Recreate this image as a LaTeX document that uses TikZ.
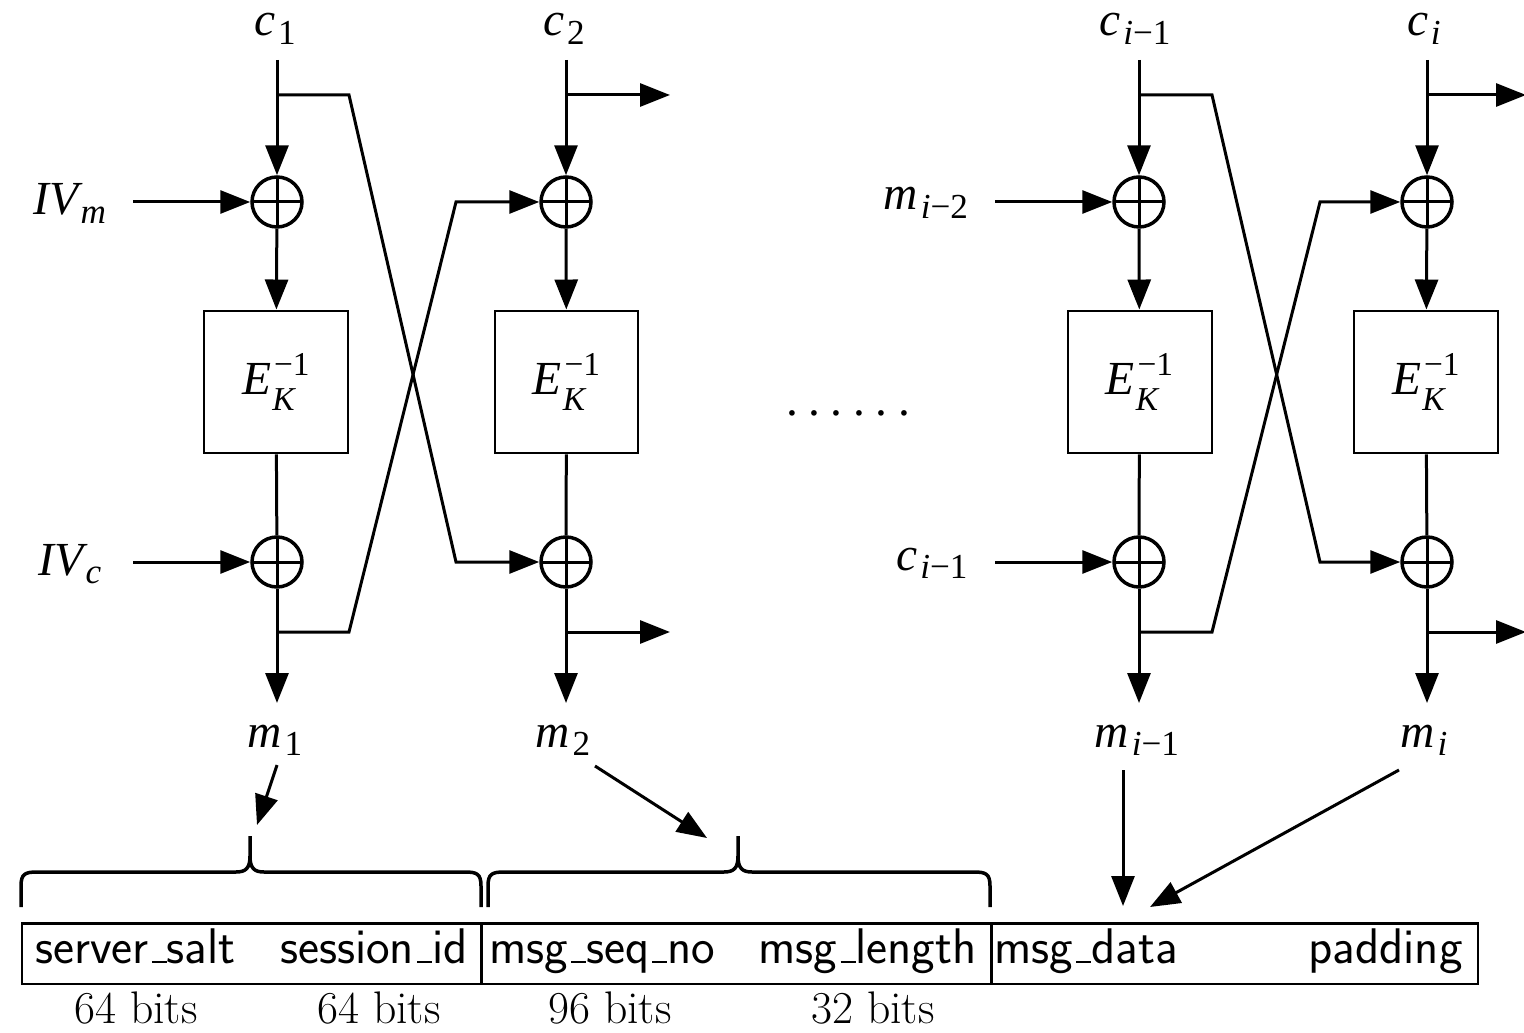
\documentclass[tikz,border=0pt]{standalone}
\usepackage{fontspec}
\newfontfamily\tms{Liberation Serif}
\usetikzlibrary{arrows.meta}
\newcommand\subf{\fontsize{20}{22}\selectfont}
\newcommand\sbs[1]{\kern1.5pt\raisebox{-5pt}{\subf #1}}
\newcommand\us{\kern.06em\rule{.3em}{1.3pt}}
\newcommand\ekinv{\textit{E}\rlap{\kern0.5pt\raisebox{-9pt}{\fontsize{19}{20}\selectfont\textit{K}}}\kern1.5pt\raisebox{10.5pt}{\fontsize{19}{20}\selectfont −1}}
\begin{document}
\begin{tikzpicture}[x=0.02cm,y=-0.02cm,
  ln/.style={line width=0.06cm},
  arr/.style={line width=0.06cm,-{Triangle[length=0.6cm,width=0.46cm]}},
  xorn/.style={circle,draw,line width=0.07cm,minimum size=1cm,inner sep=0pt,
    path picture={\draw[line width=0.06cm] (path picture bounding box.west)--(path picture bounding box.east)
      (path picture bounding box.north)--(path picture bounding box.south);}},
  ekbox/.style={draw,line width=0.04cm,minimum width=2.88cm,minimum height=2.86cm,inner sep=0pt,
    font=\tms\fontsize{27}{30}\selectfont},
  lab/.style={anchor=base,inner sep=0pt,font=\tms\fontsize{27}{30}\selectfont},
  field/.style={draw,line width=0.05cm,minimum height=1.22cm,anchor=north west,inner sep=0pt},
  sft/.style={inner sep=0pt,font=\sffamily\fontsize{28.5}{30}\selectfont},
  bits/.style={anchor=base,inner sep=0pt,font=\rmfamily\fontsize{26}{28}\selectfont},
  bracep/.style={line width=0.07cm}]
\useasboundingbox (0,0) rectangle (1524,1033);

% ---------- column 1
\node[lab] (c1) at (275,36) {\textit{c}\sbs{1}};
\coordinate (c1s) at (277,60);
\coordinate (b1t) at (277,95);
\node[xorn] (x1t) at (277,202) {};
\node[ekbox] (e1) at (276,382) {\ekinv};
\node[xorn] (x1b) at (277,562) {};
\coordinate (b1b) at (277,632);
\coordinate (m1e) at (277,703);
\node[lab] (m1) at (275,747) {\textit{m}\sbs{1}};
% ---------- column 2
\node[lab] (c2) at (564,36) {\textit{c}\sbs{2}};
\coordinate (c2s) at (566,60);
\coordinate (b2t) at (566,95);
\node[xorn] (x2t) at (566,202) {};
\node[ekbox] (e2) at (566.5,382) {\ekinv};
\node[xorn] (x2b) at (566,562) {};
\coordinate (b2b) at (566,632);
\coordinate (m2e) at (566,703);
\node[lab] (m2) at (563,747) {\textit{m}\sbs{2}};
% ---------- column 3
\node[lab] (c3) at (1135,36) {\textit{c}\sbs{\textit{i}−1}};
\coordinate (c3s) at (1139,60);
\coordinate (b3t) at (1139,95);
\node[xorn] (x3t) at (1139,202) {};
\node[ekbox] (e3) at (1139.5,382) {\ekinv};
\node[xorn] (x3b) at (1139,562) {};
\coordinate (b3b) at (1139,632);
\coordinate (m3e) at (1139,703);
\node[lab] (m3) at (1137,747) {\textit{m}\sbs{\textit{i}−1}};
% ---------- column 4
\node[lab] (c4) at (1424,36) {\textit{c}\sbs{\textit{i}}};
\coordinate (c4s) at (1427,60);
\coordinate (b4t) at (1427,95);
\node[xorn] (x4t) at (1427,202) {};
\node[ekbox] (e4) at (1426,382) {\ekinv};
\node[xorn] (x4b) at (1427,562) {};
\coordinate (b4b) at (1427,632);
\coordinate (m4e) at (1427,703);
\node[lab] (m4) at (1424,747) {\textit{m}\sbs{\textit{i}}};

% ---------- inputs
\node[lab] (ivm) at (70,215) {\textit{IV}\kern-3pt\sbs{\textit{m}}};
\coordinate (ivms) at (133,202);
\node[lab] (ivc) at (70,575) {\textit{IV}\kern-3pt\sbs{\textit{c}}};
\coordinate (ivcs) at (133,562);
\node[lab] (mim2) at (926,210) {\textit{m}\sbs{\textit{i}−2}};
\coordinate (mim2s) at (995,202);
\node[lab] (cim1) at (932,570) {\textit{c}\sbs{\textit{i}−1}};
\coordinate (cim1s) at (995,562);
\node[lab] (dots) at (848,416) {.\kern6pt.\kern6pt.\kern6pt.\kern6pt.\kern6pt.};

% ---------- crossing corners and outputs
\coordinate (k1a) at (349,95);  \coordinate (k1b) at (456,562);
\coordinate (k1c) at (349,632); \coordinate (k1d) at (456,202);
\coordinate (k3a) at (1212,95);  \coordinate (k3b) at (1320,562);
\coordinate (k3c) at (1212,632); \coordinate (k3d) at (1320,202);
\coordinate (o2t) at (670,95);  \coordinate (o2b) at (670,632);
\coordinate (o4t) at (1526,95); \coordinate (o4b) at (1526,632);

% ---------- vertical flows
\foreach \i in {1,2,3,4}{
  \draw[arr] (c\i s) -- (x\i t);
  \draw[arr] (x\i t) -- (e\i);
  \draw[ln] (e\i) -- (x\i b);
  \draw[arr] (x\i b) -- (m\i e);
}
% ---------- side inputs
\draw[arr] (ivms) -- (x1t);
\draw[arr] (ivcs) -- (x1b);
\draw[arr] (mim2s) -- (x3t);
\draw[arr] (cim1s) -- (x3b);
% ---------- crossings
\draw[arr] (b1t) -- (k1a) -- (k1b) -- (x2b);
\draw[arr] (b1b) -- (k1c) -- (k1d) -- (x2t);
\draw[arr] (b3t) -- (k3a) -- (k3b) -- (x4b);
\draw[arr] (b3b) -- (k3c) -- (k3d) -- (x4t);
\draw[arr] (b2t) -- (o2t);
\draw[arr] (b2b) -- (o2b);
\draw[arr] (b4t) -- (o4t);
\draw[arr] (b4b) -- (o4b);

% ---------- message layout
\node[field,minimum width=9.18cm] (f1) at (21,922) {};
\node[field,minimum width=10.2cm] (f2) at (480,922) {};
\node[field,minimum width=9.74cm] (f3) at (990,922) {};
\node[sft,anchor=base west] (t1) at (35,963) {server\us salt};
\node[sft,anchor=base east] (t2) at (468,963) {session\us id};
\node[sft,anchor=base west] (t3) at (489,963) {msg\us seq\us no};
\node[sft,anchor=base east] (t4) at (977,963) {msg\us length};
\node[sft,anchor=base west] (t5) at (994,963) {msg\us data};
\node[sft,anchor=base east] (t6) at (1463,963) {padding};
\node[bits] (s1) at (136,1023) {64 bits};
\node[bits] (s2) at (379,1023) {64 bits};
\node[bits] (s3) at (610,1023) {96 bits};
\node[bits] (s4) at (873,1023) {32 bits};

% ---------- braces
\coordinate (br1) at (250,836);
\coordinate (br2) at (738,836);
\draw[bracep] (21,907) -- (21,886) .. controls (21,874) and (25,872) .. (37,872) -- (236,872)
  .. controls (246,872) and (250,868) .. (250,856) -- (br1)
  (br1) -- (250,856) .. controls (250,868) and (254,872) .. (264,872) -- (465,872)
  .. controls (477,872) and (481,874) .. (481,886) -- (481,907);
\draw[bracep] (488,907) -- (488,886) .. controls (488,874) and (492,872) .. (504,872) -- (724,872)
  .. controls (734,872) and (738,868) .. (738,856) -- (br2)
  (br2) -- (738,856) .. controls (738,868) and (742,872) .. (752,872) -- (974,872)
  .. controls (986,872) and (990,874) .. (990,886) -- (990,907);

% ---------- arrows to the layout
\coordinate (a1s) at (277,765); \coordinate (a1e) at (257,825);
\coordinate (a2s) at (595,766); \coordinate (a2e) at (707,838);
\coordinate (a3s) at (1123,770); \coordinate (a3e) at (1123,906);
\coordinate (a4s) at (1399,770); \coordinate (a4e) at (1150,907);
\draw[arr] (a1s) -- (a1e);
\draw[arr] (a2s) -- (a2e);
\draw[arr] (a3s) -- (a3e);
\draw[arr] (a4s) -- (a4e);
\end{tikzpicture}
\end{document}
